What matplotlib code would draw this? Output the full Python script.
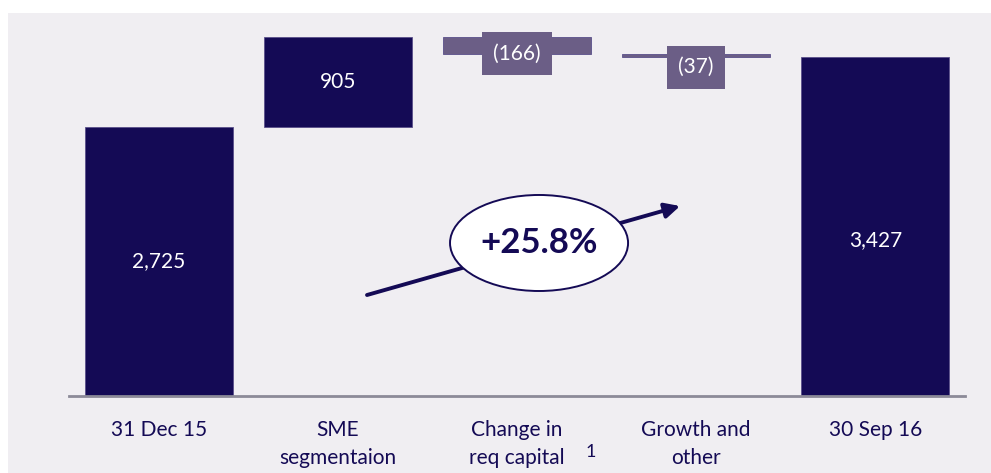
import matplotlib.pyplot as plt
from matplotlib.patches import Ellipse, Rectangle

# capital walk, 31 Dec 15 -> 30 Sep 16
categories = ["31 Dec 15", "SME\nsegmentaion", "Change in\nreq capital", "Growth and\nother", "30 Sep 16"]
values = [2725, 905, -166, -37, 3427]
kinds = ["total", "step", "step", "step", "total"]
growth_label = "+25.8%"

navy = "#140a55"
mauve = "#6b5e86"
panel = "#f0eef2"

plt.rcParams['font.family'] = ['Lato', 'DejaVu Sans']

fig = plt.figure(figsize=(9.91, 4.73), dpi=100)
fig.patches.append(Rectangle((8 / 991, 0), 1, (473 - 13) / 473, transform=fig.transFigure,
                             facecolor=panel, edgecolor='none', zorder=-10))
ax = fig.add_axes([69 / 991, 77 / 473, 896 / 991, 383 / 473])
ax.set_facecolor('none')

# floating bars
running = 0
bottoms, heights = [], []
for v, k in zip(values, kinds):
    if k == "total":
        bottoms.append(0)
        heights.append(v)
        running = v
    else:
        bottoms.append(min(running, running + v))
        heights.append(abs(v))
        running += v

xs = range(len(values))
colors = [navy if (k == "total" or v > 0) else mauve for v, k in zip(values, kinds)]
ax.bar(xs, heights, bottom=bottoms, width=0.826, color=colors,
       edgecolor='#5a4f8a', linewidth=0.6, zorder=2)

# value labels
label_frac = [0.5, 0.5, 0, 0, 0.46]
for i, (v, b, h) in enumerate(zip(values, bottoms, heights)):
    if v > 0:
        ax.text(i, b + h * label_frac[i], f"{v:,}", color='white', fontsize=15,
                ha='center', va='center', zorder=3)
    else:
        off = 0 if abs(v) > 100 else -7
        ax.annotate(f"({abs(v)})", (i, b), xytext=(0, off), textcoords='offset points',
                    color='white', fontsize=15, ha='center', va='center', zorder=4,
                    bbox=dict(boxstyle='square,pad=0.55', fc=mauve, ec='none'))

ax.set_xlim(-0.5, 4.5)
ax.set_ylim(0, 3877)
ax.set_yticks([])
ax.set_xticks(list(xs))
ax.set_xticklabels(categories, fontsize=15, color=navy, linespacing=1.55)
ax.tick_params(axis='x', length=0, pad=17)
for s in ['top', 'left', 'right']:
    ax.spines[s].set_visible(False)
ax.spines['bottom'].set_color('#8c8a98')
ax.spines['bottom'].set_linewidth(2)

# footnote marker
ax.annotate("1", (2, 0), xytext=(49, -40), textcoords='offset points',
            fontsize=13, color=navy, ha='left', va='center')

# growth arrow with ellipse callout
ax.annotate("", xy=(0.682, 0.496), xytext=(0.3326, 0.2637), xycoords='axes fraction',
            textcoords='axes fraction',
            arrowprops=dict(arrowstyle='-|>,head_length=0.9,head_width=0.45',
                            color=navy, lw=2.8, shrinkA=0, shrinkB=0), zorder=5)
ax.add_patch(Ellipse((0.5246, 0.3995), 0.1987, 0.2507, transform=ax.transAxes,
                     facecolor='white', edgecolor=navy, lw=1.4, zorder=6))
ax.text(0.5246, 0.3995, growth_label, transform=ax.transAxes, fontsize=25,
        fontweight='bold', color=navy, ha='center', va='center', zorder=7)

fig.savefig('out.png', dpi=100)
